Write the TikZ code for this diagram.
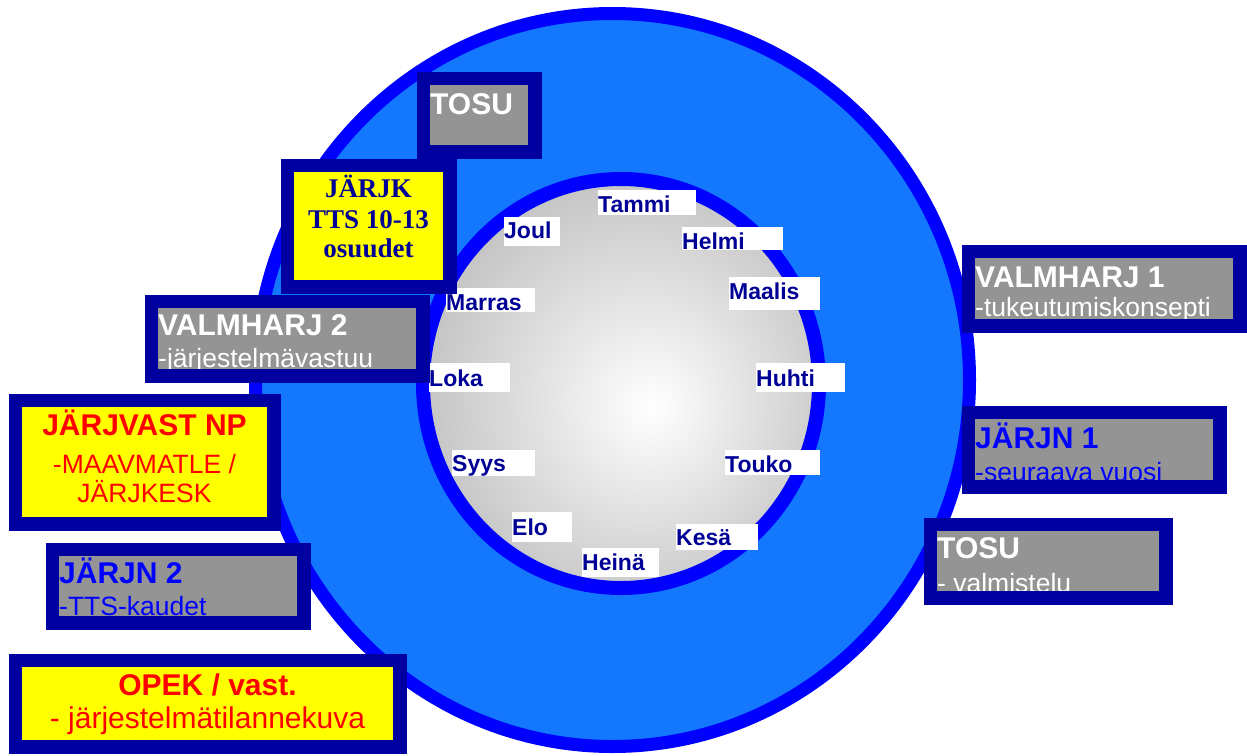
\documentclass[tikz,border=0pt]{standalone}
\usepackage{fontspec}
\setmainfont{Liberation Sans}
\newfontfamily\timesfont{Liberation Serif}

\definecolor{ringblue}{RGB}{0,0,255}
\definecolor{discblue}{RGB}{20,120,255}
\definecolor{framenavy}{RGB}{0,0,160}
\definecolor{panelgray}{RGB}{148,148,148}
\definecolor{monthnavy}{RGB}{0,0,150}
\definecolor{alertred}{RGB}{255,0,0}
\definecolor{noteyellow}{RGB}{255,255,0}

\pgfdeclareradialshading{monthglow}{\pgfpoint{4bp}{-3bp}}{rgb(0bp)=(1,1,1); rgb(28bp)=(0.76,0.76,0.76); rgb(50bp)=(0.76,0.76,0.76)}

\begin{document}
\begin{tikzpicture}[x=1pt, y=-1pt,
		panel/.style={anchor=north west, inner sep=0pt, outer sep=0pt},
		rim/.style={draw=framenavy, line width=13.5pt},
		title/.style={anchor=base west, inner sep=0pt, font=\bfseries\fontsize{30}{30}\selectfont},
		sub/.style={anchor=base west, inner sep=0pt, font=\fontsize{26.5}{30}\selectfont},
		month/.style={anchor=base west, fill=white, inner sep=0pt, align=left,
				text=monthnavy, font=\bfseries\fontsize{23}{23}\selectfont}]
	\useasboundingbox (0,0) rectangle (1247,755);

	% year wheel
	\fill[discblue] (612.5,380) ellipse [x radius=357pt, y radius=366.5pt];
	\draw[ringblue, line width=13pt] (612.5,380) ellipse [x radius=357pt, y radius=366.5pt];
	\shade[shading=monthglow] (621,383.5) ellipse [x radius=198pt, y radius=204.5pt];
	\draw[ringblue, line width=14pt] (621,383.5) ellipse [x radius=198pt, y radius=204.5pt];

	% months
	\node[month, text width=98pt, text height=22pt, text depth=3pt] (tammi) at (598,212) {Tammi};
	\node[month, text width=101pt, text height=22pt, text depth=1pt] (helmi) at (682,249) {Helmi};
	\node[month, text width=91pt, text height=22pt, text depth=11pt] (maalis) at (729,299) {Maalis};
	\node[month, text width=89pt, text height=23pt, text depth=6pt] (huhti) at (756,386) {Huhti};
	\node[month, text width=95pt, text height=22pt, text depth=3pt] (touko) at (725,472) {Touko};
	\node[month, text width=82pt, text height=21pt, text depth=5pt] (kesa) at (676,545) {Kesä};
	\node[month, text width=77pt, text height=22pt, text depth=7pt] (heina) at (582,570) {Heinä};
	\node[month, text width=60pt, text height=23pt, text depth=7pt] (elo) at (512,535) {Elo};
	\node[month, text width=83pt, text height=21pt, text depth=5pt] (syys) at (452,471) {Syys};
	\node[month, text width=81pt, text height=23pt, text depth=6pt] (loka) at (429,386) {Loka};
	\node[month, text width=89pt, text height=22pt, text depth=2pt] (marras) at (446,310) {Marras};
	\node[month, text width=56pt, text height=21pt, text depth=8pt] (joul) at (504,238) {Joul};

	% TOSU (top)
	\node[panel, fill=panelgray, minimum width=98pt, minimum height=60pt] (tosutop) at (430,85) {};
	\node[title, text=white] (tosutop-t) at (430,114) {TOSU};
	\draw[rim] ([shift={(-6.75pt,6.75pt)}]tosutop.north west) rectangle ([shift={(6.75pt,-6.75pt)}]tosutop.south east);

	% JÄRJK
	\node[panel, fill=noteyellow, minimum width=149pt, minimum height=108pt] (jarjk) at (294,172) {};
	\begin{scope}[every node/.style={anchor=base, inner sep=0pt, text=monthnavy,
				font=\timesfont\bfseries\fontsize{27}{27}\selectfont}]
		\node (jarjk-a) at (368.5,197) {JÄRJK};
		\node (jarjk-b) at (368.5,228) {TTS 10-13};
		\node (jarjk-c) at (368.5,257) {osuudet};
	\end{scope}
	\draw[rim] ([shift={(-6.75pt,6.75pt)}]jarjk.north west) rectangle ([shift={(6.75pt,-6.75pt)}]jarjk.south east);

	% VALMHARJ 2
	\node[panel, fill=panelgray, minimum width=258pt, minimum height=61pt] (valm2) at (158,308) {};
	\node[title, text=white] (valm2-t) at (158,335) {VALMHARJ 2};
	\node[sub, text=white] (valm2-s) at (158,367) {-järjestelmävastuu};
	\draw[rim] ([shift={(-6.75pt,6.75pt)}]valm2.north west) rectangle ([shift={(6.75pt,-6.75pt)}]valm2.south east);

	% VALMHARJ 1
	\node[panel, fill=panelgray, minimum width=258pt, minimum height=61pt] (valm1) at (975,258) {};
	\node[title, text=white] (valm1-t) at (975,287) {VALMHARJ 1};
	\node[sub, text=white] (valm1-s) at (975,316) {-tukeutumiskonsepti};
	\draw[rim] ([shift={(-6.75pt,6.75pt)}]valm1.north west) rectangle ([shift={(6.75pt,-6.75pt)}]valm1.south east);

	% JÄRJN 1
	\node[panel, fill=panelgray, minimum width=238pt, minimum height=61pt] (jarjn1) at (975,419) {};
	\node[title, text=ringblue] (jarjn1-t) at (975,448) {JÄRJN 1};
	\node[sub, text=ringblue] (jarjn1-s) at (975,481) {-seuraava vuosi};
	\draw[rim] ([shift={(-6.75pt,6.75pt)}]jarjn1.north west) rectangle ([shift={(6.75pt,-6.75pt)}]jarjn1.south east);

	% TOSU (valmistelu)
	\node[panel, fill=panelgray, minimum width=222pt, minimum height=60pt] (tosuv) at (937,531) {};
	\node[title, text=white] (tosuv-t) at (937,558) {TOSU};
	\node[sub, text=white] (tosuv-s) at (937,592) {- valmistelu};
	\draw[rim] ([shift={(-6.75pt,6.75pt)}]tosuv.north west) rectangle ([shift={(6.75pt,-6.75pt)}]tosuv.south east);

	% JÄRJVAST NP
	\node[panel, fill=noteyellow, minimum width=245pt, minimum height=110pt] (jarjvast) at (22,407) {};
	\node[title, anchor=base, text=alertred] (jarjvast-t) at (144.5,435) {JÄRJVAST NP};
	\node[sub, anchor=base, text=alertred] (jarjvast-a) at (144.5,473) {-MAAVMATLE /};
	\node[sub, anchor=base, text=alertred] (jarjvast-b) at (144.5,502) {JÄRJKESK};
	\draw[rim] ([shift={(-6.75pt,6.75pt)}]jarjvast.north west) rectangle ([shift={(6.75pt,-6.75pt)}]jarjvast.south east);

	% JÄRJN 2
	\node[panel, fill=panelgray, minimum width=238pt, minimum height=60pt] (jarjn2) at (59,556) {};
	\node[title, text=ringblue] (jarjn2-t) at (59,583) {JÄRJN 2};
	\node[sub, text=ringblue] (jarjn2-s) at (59,615) {-TTS-kaudet};
	\draw[rim] ([shift={(-6.75pt,6.75pt)}]jarjn2.north west) rectangle ([shift={(6.75pt,-6.75pt)}]jarjn2.south east);

	% OPEK / vast.
	\node[panel, fill=noteyellow, minimum width=371pt, minimum height=73pt] (opek) at (22,667) {};
	\node[title, anchor=base, text=alertred] (opek-t) at (207.5,695) {OPEK / vast.};
	\node[sub, anchor=base, text=alertred, font=\fontsize{30}{30}\selectfont] (opek-s) at (207.5,728) {- järjestelmätilannekuva};
	\draw[rim] ([shift={(-6.75pt,6.75pt)}]opek.north west) rectangle ([shift={(6.75pt,-6.75pt)}]opek.south east);
\end{tikzpicture}
\end{document}
